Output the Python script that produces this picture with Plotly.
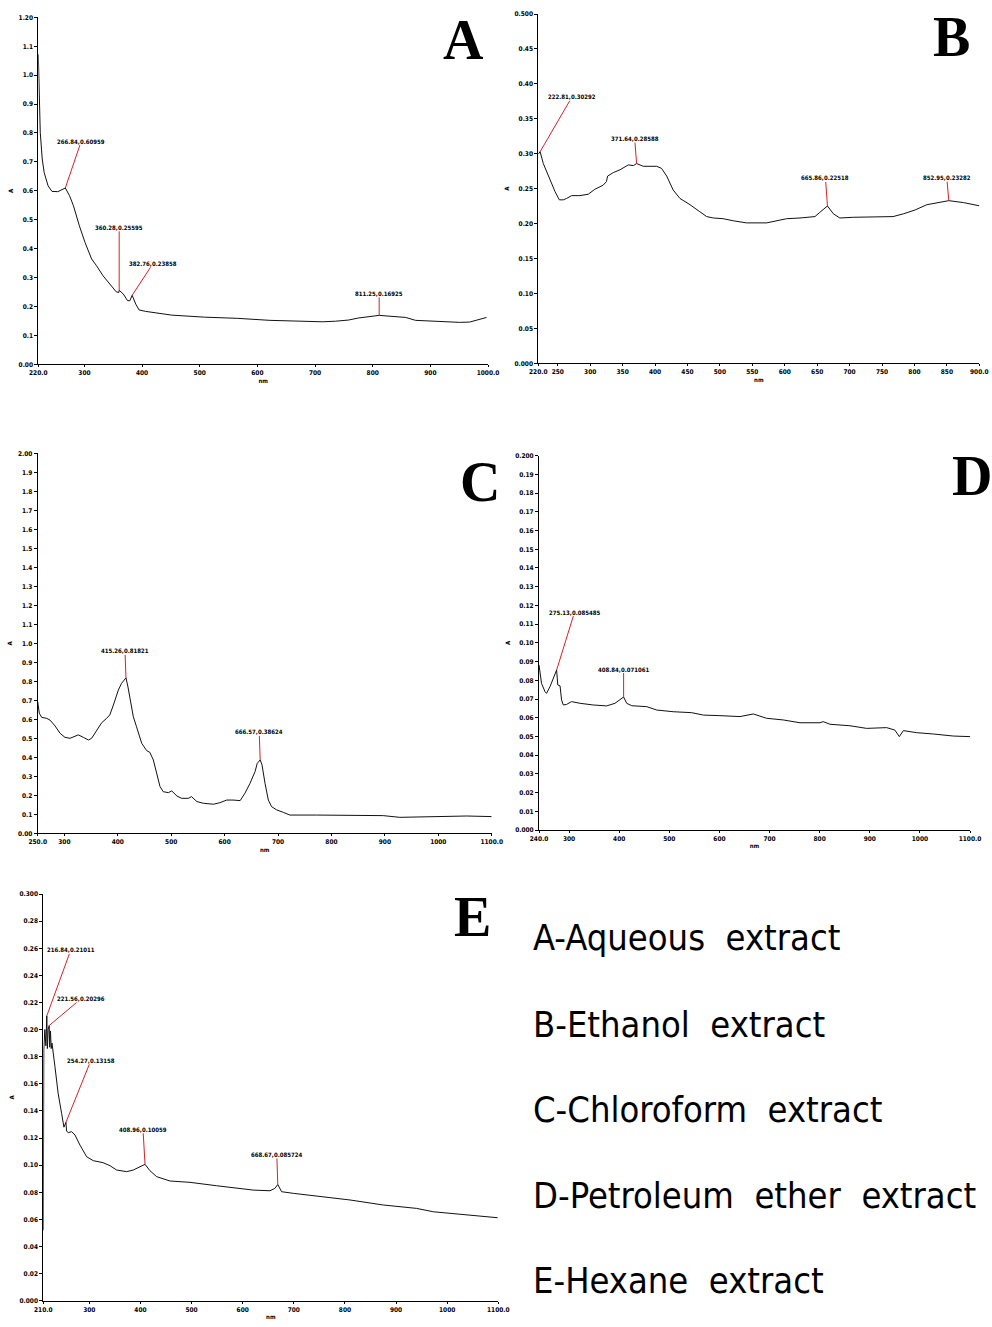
import plotly.graph_objects as go

W, H = 992, 1327

# ---------------- data ----------------
# A - Aqueous extract
a_wl = [220, 222, 223.4, 226.8, 230.2, 237, 243.7, 253.9, 266.84, 274.2, 281, 291.2, 301.1, 312.5, 321,
        332.3, 343.7, 355, 359.6, 360.28, 367.5, 374.8, 378.9, 382.76, 389.1, 394.8, 406.1, 428.8, 451.5,
        508.3, 565, 621.8, 678.5, 712.6, 735.3, 758, 775, 792, 811.25, 831.8, 857.3, 874.3, 905.5, 939.6,
        950.9, 968, 985, 997.5]
a_abs = [1.072, 0.952, 0.802, 0.710, 0.663, 0.617, 0.598, 0.597, 0.60959, 0.583, 0.548, 0.479, 0.421, 0.364,
         0.341, 0.306, 0.277, 0.251, 0.248, 0.25595, 0.243, 0.220, 0.220, 0.23858, 0.208, 0.188, 0.183, 0.177,
         0.170, 0.163, 0.159, 0.152, 0.149, 0.147, 0.149, 0.153, 0.160, 0.165, 0.16925, 0.166, 0.162, 0.152,
         0.149, 0.148, 0.145, 0.146, 0.156, 0.162]
a_peak_wl = [266.84, 360.28, 382.76, 811.25]
a_peak_abs = [0.60959, 0.25595, 0.23858, 0.16925]
a_xticks = [220, 300, 400, 500, 600, 700, 800, 900, 1000]
a_xticktext = ["220.0", "300", "400", "500", "600", "700", "800", "900", "1000.0"]
a_yticks = [0, 0.1, 0.2, 0.3, 0.4, 0.5, 0.6, 0.7, 0.8, 0.9, 1.0, 1.1, 1.2]
a_yticktext = ["0.00", "0.1", "0.2", "0.3", "0.4", "0.5", "0.6", "0.7", "0.8", "0.9", "1.0", "1.1", "1.20"]

# B - Ethanol extract
b_wl = [220, 222.81, 227.7, 238, 245.7, 252.4, 258.5, 263.7, 271.4, 284, 297, 307, 320, 325, 326.9, 335.6,
        346, 358.8, 366.5, 371.64, 382, 402.5, 410, 418, 428, 438.4, 454, 469, 479.6, 490, 505, 520.7, 541,
        572, 587.5, 603, 623.5, 646.6, 654, 665.86, 675, 685, 705.7, 726, 767, 783, 801, 819, 834, 852.95,
        875.7, 900]
b_abs = [0.2995, 0.30292, 0.286, 0.262, 0.246, 0.234, 0.234, 0.236, 0.240, 0.240, 0.242, 0.249, 0.255, 0.260,
         0.268, 0.273, 0.277, 0.284, 0.283, 0.28588, 0.282, 0.282, 0.279, 0.268, 0.248, 0.236, 0.227, 0.217,
         0.210, 0.208, 0.207, 0.204, 0.201, 0.201, 0.204, 0.207, 0.208, 0.210, 0.216, 0.22518, 0.214, 0.208,
         0.209, 0.209, 0.210, 0.214, 0.2195, 0.227, 0.230, 0.23282, 0.230, 0.2255]
b_peak_wl = [222.81, 371.64, 665.86, 852.95]
b_peak_abs = [0.30292, 0.28588, 0.22518, 0.23282]
b_xticks = [220, 250, 300, 350, 400, 450, 500, 550, 600, 650, 700, 750, 800, 850, 900]
b_xticktext = ["220.0", "250", "300", "350", "400", "450", "500", "550", "600", "650", "700", "750", "800",
               "850", "900.0"]
b_yticks = [0, 0.05, 0.10, 0.15, 0.20, 0.25, 0.30, 0.35, 0.40, 0.45, 0.50]
b_yticktext = ["0.000", "0.05", "0.10", "0.15", "0.20", "0.25", "0.30", "0.35", "0.40", "0.45", "0.500"]

# C - Chloroform extract
c_wl = [250, 253, 257.5, 267, 273, 282.5, 292, 301, 310.5, 320, 326, 335.5, 345, 351, 360.5, 369.8, 379, 385,
        391.7, 401, 407, 415.26, 419, 423, 429, 435, 444.7, 454, 460, 466.5, 473, 479, 485, 494.6, 501, 510.7,
        519.6, 532, 538, 548, 560, 579, 591, 604, 616, 629, 638, 647.5, 657, 661, 666.57, 670, 675.6, 681.8,
        688, 697.5, 710, 722, 772, 859.7, 897, 928, 991, 1053, 1100]
c_abs = [0.693, 0.632, 0.61, 0.605, 0.596, 0.565, 0.526, 0.505, 0.50, 0.509, 0.518, 0.505, 0.491, 0.50, 0.544,
         0.582, 0.605, 0.623, 0.675, 0.754, 0.789, 0.81821, 0.77, 0.70, 0.614, 0.561, 0.474, 0.435, 0.426, 0.386,
         0.316, 0.246, 0.219, 0.214, 0.223, 0.196, 0.184, 0.184, 0.193, 0.167, 0.158, 0.153, 0.161, 0.175, 0.175,
         0.172, 0.211, 0.263, 0.325, 0.368, 0.38624, 0.36, 0.263, 0.175, 0.14, 0.123, 0.11, 0.096, 0.096, 0.096,
         0.093, 0.084, 0.088, 0.091, 0.088]
c_peak_wl = [415.26, 666.57]
c_peak_abs = [0.81821, 0.38624]
c_xticks = [250, 300, 400, 500, 600, 700, 800, 900, 1000, 1100]
c_xticktext = ["250.0", "300", "400", "500", "600", "700", "800", "900", "1000", "1100.0"]
c_yticks = [0, 0.1, 0.2, 0.3, 0.4, 0.5, 0.6, 0.7, 0.8, 0.9, 1.0, 1.1, 1.2, 1.3, 1.4, 1.5, 1.6, 1.7, 1.8, 1.9, 2.0]
c_yticktext = ["0.00", "0.1", "0.2", "0.3", "0.4", "0.5", "0.6", "0.7", "0.8", "0.9", "1.0", "1.1", "1.2",
               "1.3", "1.4", "1.5", "1.6", "1.7", "1.8", "1.9", "2.00"]

# D - Petroleum ether extract
d_wl = [240, 242, 245, 252, 255, 262, 268.6, 275.13, 277.5, 282, 285, 288.5, 295, 305, 322, 348, 375, 391.6,
        408.84, 415, 425, 455, 475, 508, 544.6, 568, 601, 641, 667.7, 694, 727.5, 760.8, 800.7, 807, 820.6,
        860.5, 893.8, 933.7, 950, 959, 967, 993.6, 1026.8, 1066.8, 1100]
d_abs = [0.0882, 0.0828, 0.0784, 0.0739, 0.073, 0.0766, 0.081, 0.085485, 0.0775, 0.077, 0.0695, 0.0668, 0.0671,
         0.0686, 0.0677, 0.0668, 0.0663, 0.0677, 0.071061, 0.0677, 0.0664, 0.0659, 0.0641, 0.0632, 0.0627, 0.0614,
         0.0611, 0.0606, 0.062, 0.0597, 0.0588, 0.0573, 0.0573, 0.0579, 0.0565, 0.0557, 0.0543, 0.0547, 0.0534,
         0.0499, 0.0531, 0.052, 0.0513, 0.0502, 0.0499]
d_peak_wl = [275.13, 408.84]
d_peak_abs = [0.085485, 0.071061]
d_xticks = [240, 300, 400, 500, 600, 700, 800, 900, 1000, 1100]
d_xticktext = ["240.0", "300", "400", "500", "600", "700", "800", "900", "1000", "1100.0"]
d_yticks = [0, 0.01, 0.02, 0.03, 0.04, 0.05, 0.06, 0.07, 0.08, 0.09, 0.10, 0.11, 0.12, 0.13, 0.14, 0.15, 0.16,
            0.17, 0.18, 0.19, 0.20]
d_yticktext = ["0.000", "0.01", "0.02", "0.03", "0.04", "0.05", "0.06", "0.07", "0.08", "0.09", "0.10", "0.11",
               "0.12", "0.13", "0.14", "0.15", "0.16", "0.17", "0.18", "0.19", "0.200"]

# E - Hexane extract
e_wl = [210, 210.7, 211, 213, 215, 216.84, 218, 219.5, 221.56, 222.5, 224, 225.5, 227, 232.8, 239, 245.9, 250.4,
        254.27, 255.6, 259, 265.4, 272, 281.7, 294.8, 307.8, 327, 340.4, 353.4, 373, 386, 399, 408.96, 418.6,
        431.7, 457.8, 497, 549, 581.6, 620.8, 653.4, 663, 668.67, 676, 699, 744.7, 809.9, 875, 940, 972.9, 1025,
        1077, 1098.7]
e_abs = [0.052, 0.150, 0.185, 0.200, 0.188, 0.21011, 0.186, 0.200, 0.20296, 0.187, 0.199, 0.186, 0.19, 0.1726,
         0.153, 0.138, 0.128, 0.13158, 0.125, 0.124, 0.1247, 0.1222, 0.1148, 0.1062, 0.1033, 0.1018, 0.0996,
         0.0964, 0.0952, 0.0964, 0.0988, 0.10059, 0.0959, 0.0915, 0.0883, 0.0873, 0.0848, 0.0836, 0.0816, 0.0811,
         0.0829, 0.085724, 0.0804, 0.0792, 0.0772, 0.0743, 0.0706, 0.0681, 0.0656, 0.0637, 0.0615, 0.0612]
e_peak_wl = [216.84, 221.56, 254.27, 408.96, 668.67]
e_peak_abs = [0.21011, 0.20296, 0.13158, 0.10059, 0.085724]
e_xticks = [210, 300, 400, 500, 600, 700, 800, 900, 1000, 1100]
e_xticktext = ["210.0", "300", "400", "500", "600", "700", "800", "900", "1000", "1100.0"]
e_yticks = [0, 0.02, 0.04, 0.06, 0.08, 0.10, 0.12, 0.14, 0.16, 0.18, 0.20, 0.22, 0.24, 0.26, 0.28, 0.30]
e_yticktext = ["0.000", "0.02", "0.04", "0.06", "0.08", "0.10", "0.12", "0.14", "0.16", "0.18", "0.20", "0.22",
               "0.24", "0.26", "0.28", "0.300"]

panel_letters = ["A", "B", "C", "D", "E"]
legend_lines = ["A-Aqueous\u00a0\u00a0extract", "B-Ethanol\u00a0\u00a0extract", "C-Chloroform\u00a0\u00a0extract",
                "D-Petroleum\u00a0\u00a0ether\u00a0\u00a0extract", "E-Hexane\u00a0\u00a0extract"]

# ---------------- layout / style ----------------
NARROW = "Liberation Sans Narrow, DejaVu Sans Condensed, Arial Narrow, sans-serif"
TICK_FONT = dict(family=NARROW, size=6.5, color="black", weight="bold")
LBL_FONT = dict(family=NARROW, size=6, color="black", weight="bold")
RED = "#d2232a"

panels = [
    dict(wl=a_wl, ab=a_abs, pw=a_peak_wl, pa=a_peak_abs, xt=a_xticks, xtt=a_xticktext, yt=a_yticks,
         ytt=a_yticktext, box=(38.3, 488, 17.3, 364.3), letter=(463, 40),
         offs=[(16, -47), (0, -63), (21, -32), (0, -22)]),
    dict(wl=b_wl, ab=b_abs, pw=b_peak_wl, pa=b_peak_abs, xt=b_xticks, xtt=b_xticktext, yt=b_yticks,
         ytt=b_yticktext, box=(538.3, 979.3, 14, 363.3), letter=(951, 37),
         offs=[(32, -55), (-2, -25), (-2, -28), (-2, -23)]),
    dict(wl=c_wl, ab=c_abs, pw=c_peak_wl, pa=c_peak_abs, xt=c_xticks, xtt=c_xticktext, yt=c_yticks,
         ytt=c_yticktext, box=(37.7, 491.7, 453.3, 833.3), letter=(480, 482),
         offs=[(-1, -27), (-1, -28)]),
    dict(wl=d_wl, ab=d_abs, pw=d_peak_wl, pa=d_peak_abs, xt=d_xticks, xtt=d_xticktext, yt=d_yticks,
         ytt=d_yticktext, box=(539, 970, 455.7, 830), letter=(972, 476),
         offs=[(18, -58), (0, -28)]),
    dict(wl=e_wl, ab=e_abs, pw=e_peak_wl, pa=e_peak_abs, xt=e_xticks, xtt=e_xticktext, yt=e_yticks,
         ytt=e_yticktext, box=(43.3, 498.3, 894, 1300.7), letter=(472, 917),
         offs=[(24, -66), (32, -27), (25, -62), (-2, -35), (-1, -30)]),
]

fig = go.Figure()
annotations = []
layout_axes = {}

for i, p in enumerate(panels):
    n = "" if i == 0 else str(i + 1)
    xa, ya = "x" + n, "y" + n
    x0, x1, yt, yb = p["box"]
    fig.add_trace(go.Scatter(x=p["wl"], y=p["ab"], mode="lines", xaxis=xa, yaxis=ya,
                             line=dict(color="#111111", width=1), showlegend=False, hoverinfo="x+y"))
    layout_axes["xaxis" + n] = dict(
        domain=[x0 / W, x1 / W], anchor=ya, range=[p["xt"][0], p["xt"][-1]],
        tickmode="array", tickvals=p["xt"], ticktext=p["xtt"], tickfont=TICK_FONT,
        showline=True, linecolor="black", linewidth=1, ticks="outside", ticklen=2, tickcolor="black",
        showgrid=False, zeroline=False, automargin=False,
        title=dict(text="nm", font=LBL_FONT, standoff=2))
    layout_axes["yaxis" + n] = dict(
        domain=[1 - yb / H, 1 - yt / H], anchor=xa, range=[p["yt"][0], p["yt"][-1]],
        tickmode="array", tickvals=p["yt"], ticktext=p["ytt"], tickfont=TICK_FONT,
        showline=True, linecolor="black", linewidth=1, ticks="outside", ticklen=3, tickcolor="black",
        showgrid=False, zeroline=False, automargin=False,
        title=dict(text="A", font=LBL_FONT, standoff=4))
    for (w, a), (ax, ay) in zip(zip(p["pw"], p["pa"]), p["offs"]):
        annotations.append(dict(x=w, y=a, xref=xa, yref=ya, text=f"{w:.2f},{a:.5g}", showarrow=True,
                                arrowhead=0, arrowwidth=1, arrowcolor=RED, ax=ax, ay=ay, standoff=0,
                                borderpad=0, font=LBL_FONT))
    lx, ly = p["letter"]
    annotations.append(dict(x=lx / W, y=1 - ly / H, xref="paper", yref="paper", text=panel_letters[i],
                            showarrow=False, xanchor="center", yanchor="middle",
                            font=dict(family="Liberation Serif, Times New Roman, serif", size=56,
                                      color="black", weight="bold")))

legend_y = [937, 1024, 1109, 1195, 1280]
for txt, yy in zip(legend_lines, legend_y):
    annotations.append(dict(x=531 / W, y=1 - yy / H, xref="paper", yref="paper", text=txt, showarrow=False,
                            xanchor="left", yanchor="middle",
                            font=dict(family=NARROW, size=36, color="black")))

fig.update_layout(width=W, height=H, margin=dict(l=0, r=0, t=0, b=0), paper_bgcolor="white",
                  plot_bgcolor="white", annotations=annotations, showlegend=False, **layout_axes)
fig.write_html("out.html", config={"displayModeBar": False},
               post_script="document.body.style.margin='0';document.body.style.overflow='hidden';")
